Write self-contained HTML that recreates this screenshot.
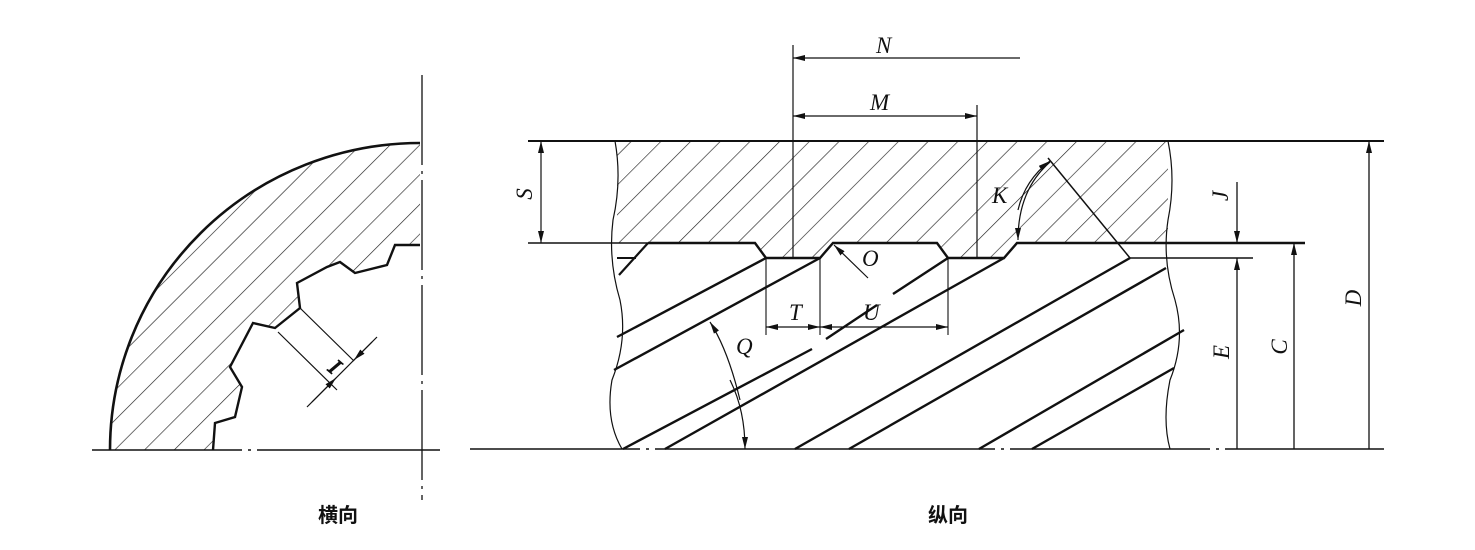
<!DOCTYPE html>
<html><head><meta charset="utf-8"><style>
html,body{margin:0;padding:0;background:#fff;}
svg{display:block;}
.l{font-family:"Liberation Serif",serif;font-style:italic;font-size:23px;fill:#111;}
.c{font-family:"Liberation Sans","Noto Sans CJK SC",sans-serif;font-weight:bold;font-size:20px;fill:#111;}
</style></head><body>
<svg width="1475" height="550" viewBox="0 0 1475 550" xmlns="http://www.w3.org/2000/svg">
<defs>
<pattern id="h" patternUnits="userSpaceOnUse" width="21" height="21" patternTransform="rotate(45)">
<line x1="0" y1="0" x2="0" y2="21" stroke="#222" stroke-width="1.3"/>
</pattern>
<marker id="a" viewBox="0 0 12 6" refX="12" refY="3" markerWidth="12" markerHeight="6" orient="auto" markerUnits="userSpaceOnUse">
<path d="M0,0 L12,3 L0,6 Z" fill="#111"/></marker>
<clipPath id="lc"><path d="M110,450 A310,307 0 0 1 420,143 L420,245 L395,245 L387,265 L355,273 L340,262 L327,267 L297,283 L300,308 L275,328 L253,323 L230,367 L242,387 L235,417 L215,423 L213,450 Z"/></clipPath>
<clipPath id="mc"><path d="M617,141 L1168,141 L1168,243 L1017,243 L1004,258 L948,258 L937,243 L833,243 L820,258 L766,258 L755,243 L617,243 Z"/></clipPath>
</defs>
<g fill="none" stroke="#111">
<!-- left view -->
<rect x="90" y="130" width="340" height="330" fill="url(#h)" clip-path="url(#lc)" stroke="none"/>
<path d="M110,450 A310,307 0 0 1 420,143" stroke-width="2.6"/>
<path d="M420,245 L395,245 L387,265 L355,273 L340,262 L327,267 L297,283 L300,308 L275,328 L253,323 L230,367 L242,387 L235,417 L215,423 L213,450" stroke-width="2.4"/>
<line x1="422" y1="75" x2="422" y2="500" stroke-width="1.3" stroke-dasharray="90,6,3,6"/>
<line x1="92" y1="450" x2="440" y2="450" stroke-width="1.5" stroke-dasharray="150,6,3,6,200"/>
<line x1="300" y1="308" x2="354" y2="361" stroke-width="1.2"/>
<line x1="278" y1="332" x2="337" y2="390" stroke-width="1.2"/>
<line x1="377" y1="337" x2="307" y2="407" stroke-width="1.2"/>
<line x1="372" y1="342" x2="354" y2="360" stroke-width="1.2" marker-end="url(#a)"/>
<line x1="312" y1="402" x2="336" y2="378" stroke-width="1.2" marker-end="url(#a)"/>
<text class="l" transform="translate(327,370) rotate(40)">I</text>
<!-- main view hatched block -->
<rect x="610" y="141" width="565" height="120" fill="url(#h)" clip-path="url(#mc)" stroke="none"/>
<line x1="528" y1="141" x2="1384" y2="141" stroke-width="2"/>
<line x1="528" y1="243" x2="648" y2="243" stroke-width="1.5"/>
<path d="M648,243 L755,243 L766,258 L820,258 L833,243 L937,243 L948,258 L1004,258 L1017,243 L1305,243" stroke-width="2.4"/>
<line x1="1130" y1="258" x2="1253" y2="258" stroke-width="1.5"/>
<line x1="617" y1="258" x2="636" y2="258" stroke-width="2"/>
<line x1="619" y1="275" x2="648" y2="243" stroke-width="2.2"/>
<line x1="1048" y1="158" x2="1130" y2="258" stroke-width="1.5"/>
<line x1="470" y1="449" x2="1384" y2="449" stroke-width="1.5" stroke-dasharray="170,6,3,6,340,6,3,6,200,6,3,6,400"/>
<!-- edges -->
<path d="M615,141 Q622,180 613,220 Q608,260 620,300 Q628,340 612,380 Q605,420 622,449" stroke-width="1.2"/>
<path d="M1168,141 Q1176,180 1168,220 Q1162,260 1175,300 Q1186,340 1170,380 Q1162,420 1170,449" stroke-width="1.2"/>
<!-- thread flanks -->
<g stroke-width="2.4">
<line x1="766" y1="258" x2="617" y2="337"/>
<line x1="820" y1="258" x2="614" y2="370"/>
<path d="M948,258 L893,294 M877,305 L826,339 M812,349 L623,449"/>
<line x1="1004" y1="258" x2="665" y2="449"/>
<line x1="1130" y1="258" x2="795" y2="449"/>
<line x1="1166" y1="268" x2="849" y2="449"/>
<line x1="1184" y1="330" x2="979" y2="449"/>
<line x1="1174" y1="368" x2="1032" y2="449"/>
</g>
<!-- N / M -->
<line x1="793" y1="45" x2="793" y2="258" stroke-width="1.2"/>
<line x1="977" y1="105" x2="977" y2="258" stroke-width="1.2"/>
<line x1="1020" y1="58" x2="793" y2="58" stroke-width="1.2" marker-end="url(#a)"/>
<line x1="885" y1="116" x2="793" y2="116" stroke-width="1.2" marker-end="url(#a)"/>
<line x1="885" y1="116" x2="977" y2="116" stroke-width="1.2" marker-end="url(#a)"/>
<!-- S -->
<line x1="541" y1="192" x2="541" y2="141" stroke-width="1.2" marker-end="url(#a)"/>
<line x1="541" y1="192" x2="541" y2="243" stroke-width="1.2" marker-end="url(#a)"/>
<!-- D C E J -->
<line x1="1369" y1="449" x2="1369" y2="141" stroke-width="1.3" marker-end="url(#a)"/>
<line x1="1294" y1="449" x2="1294" y2="243" stroke-width="1.3" marker-end="url(#a)"/>
<line x1="1237" y1="449" x2="1237" y2="258" stroke-width="1.3" marker-end="url(#a)"/>
<line x1="1237" y1="182" x2="1237" y2="243" stroke-width="1.3" marker-end="url(#a)"/>
<!-- T U -->
<line x1="766" y1="258" x2="766" y2="335" stroke-width="1.1"/>
<line x1="820" y1="258" x2="820" y2="335" stroke-width="1.1"/>
<line x1="948" y1="258" x2="948" y2="335" stroke-width="1.1"/>
<line x1="793" y1="327" x2="766" y2="327" stroke-width="1.2" marker-end="url(#a)"/>
<line x1="793" y1="327" x2="820" y2="327" stroke-width="1.2" marker-end="url(#a)"/>
<line x1="880" y1="327" x2="820" y2="327" stroke-width="1.2" marker-end="url(#a)"/>
<line x1="880" y1="327" x2="948" y2="327" stroke-width="1.2" marker-end="url(#a)"/>
<!-- O -->
<line x1="868" y1="278" x2="834" y2="245" stroke-width="1.2" marker-end="url(#a)"/>
<!-- K -->
<path d="M1050,162 Q1018,190 1018,240" stroke-width="1.2" marker-end="url(#a)"/>
<path d="M1018,210 Q1025,180 1050,161" stroke-width="1.2" marker-end="url(#a)"/>
<!-- Q -->
<path d="M730,380 Q745,410 745,449" stroke-width="1.2" marker-end="url(#a)"/>
<path d="M740,400 Q728,350 710,322" stroke-width="1.2" marker-end="url(#a)"/>
</g>
<g class="l">
<text x="876" y="53">N</text>
<text x="870" y="110">M</text>
<text transform="translate(532,194) rotate(-90)" text-anchor="middle">S</text>
<text x="992" y="203">K</text>
<text x="862" y="266">O</text>
<text x="789" y="320">T</text>
<text x="863" y="320">U</text>
<text x="736" y="354">Q</text>
<text transform="translate(1228,196) rotate(-90)" text-anchor="middle">J</text>
<text transform="translate(1229,352) rotate(-90)" text-anchor="middle">E</text>
<text transform="translate(1287,347) rotate(-90)" text-anchor="middle">C</text>
<text transform="translate(1361,298) rotate(-90)" text-anchor="middle">D</text>
</g>
<text class="c" x="318" y="522">横向</text>
<text class="c" x="928" y="522">纵向</text>
</svg>
</body></html>
